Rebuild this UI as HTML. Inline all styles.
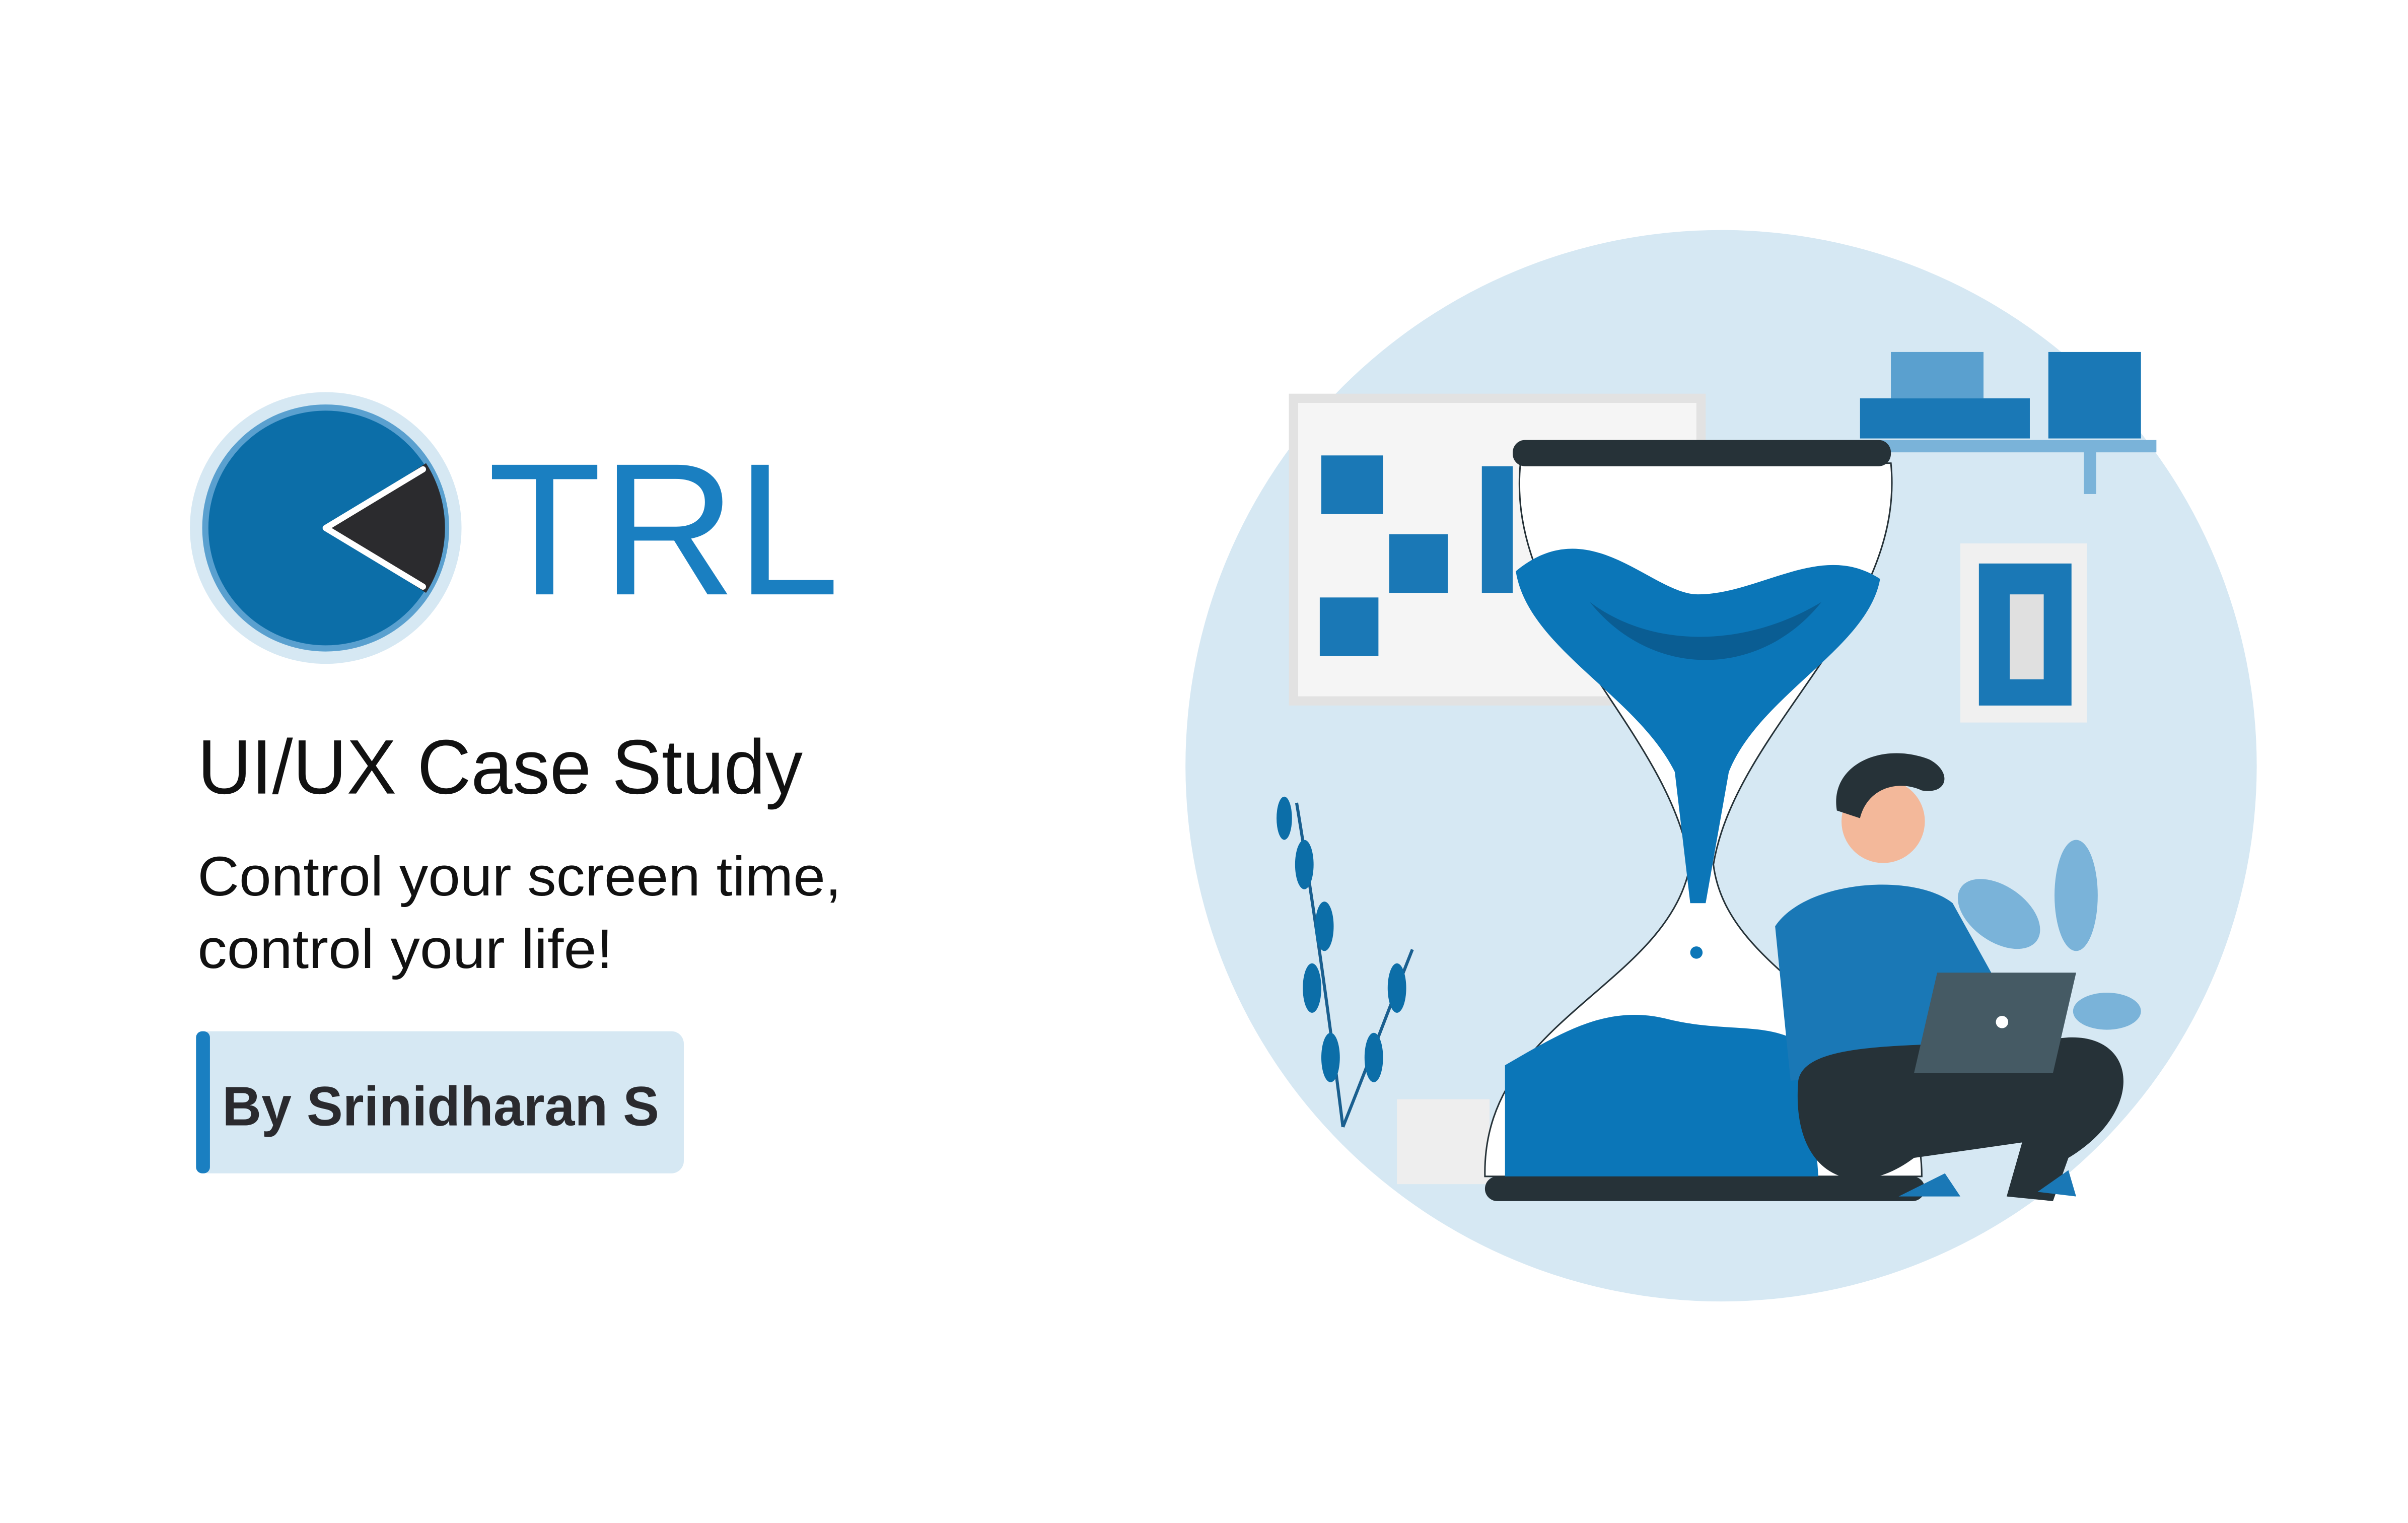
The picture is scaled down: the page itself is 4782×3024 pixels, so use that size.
<!DOCTYPE html>
<html><head><meta charset="utf-8"><style>
html,body{margin:0;padding:0;background:#fff;}
svg{display:block;width:4782px;height:3024px;}
text{font-family:"Liberation Sans",sans-serif;}
</style></head><body>
<svg viewBox="0 0 1560 986.5" preserveAspectRatio="none">
<rect x="0" y="0" width="1560" height="987" fill="#fff"/>
<g>
<circle cx="211" cy="342" r="88" fill="#d6e8f3"/>
<circle cx="211" cy="342" r="80" fill="#5aa0cf"/>
<circle cx="211" cy="342" r="76" fill="#0c6ea8"/>
<path d="M211,342 L276,300 A78,78 0 0 1 276,384 Z" fill="#2b2b2e"/>
<path d="M274,304 L211,342 L274,380" fill="none" stroke="#fff" stroke-width="4" stroke-linecap="round" stroke-linejoin="round"/>
<text x="316" y="385" font-size="122" fill="#1a7fc1" textLength="228" lengthAdjust="spacingAndGlyphs">TRL</text>
</g>
<text x="128" y="514" font-size="50" fill="#111" textLength="392" lengthAdjust="spacingAndGlyphs">UI/UX Case Study</text>
<text x="128" y="580" font-size="36" fill="#111" textLength="417" lengthAdjust="spacingAndGlyphs">Control your screen time,</text>
<text x="128" y="627" font-size="36" fill="#111" textLength="269" lengthAdjust="spacingAndGlyphs">control your life!</text>
<g>
<rect x="127" y="668" width="316" height="92" rx="8" fill="#d6e8f3"/>
<rect x="127" y="668" width="9" height="92" rx="4" fill="#1a7fc1"/>
<text x="144" y="729" font-size="36" font-weight="bold" fill="#2a2a2e" textLength="283" lengthAdjust="spacingAndGlyphs">By Srinidharan S</text>
</g>
<g>
<circle cx="1115" cy="496" r="347" fill="#d6e8f3"/>
<rect x="838" y="258" width="264" height="196" fill="#f5f5f5" stroke="#e2e2e2" stroke-width="6"/>
<rect x="856" y="295" width="40" height="38" fill="#1a78b6"/>
<rect x="900" y="346" width="38" height="38" fill="#1a78b6"/>
<rect x="855" y="387" width="38" height="38" fill="#1a78b6"/>
<rect x="960" y="302" width="20" height="82" fill="#1a78b6"/>
<rect x="1185" y="285" width="212" height="8" fill="#7ab3d9"/>
<rect x="1350" y="290" width="8" height="30" fill="#7ab3d9"/>
<rect x="1205" y="258" width="110" height="26" fill="#1a78b6"/>
<rect x="1225" y="228" width="60" height="30" fill="#5aa0cf"/>
<rect x="1327" y="228" width="60" height="56" fill="#1a78b6"/>
<rect x="1270" y="352" width="82" height="116" fill="#f0f0f0"/>
<rect x="1282" y="365" width="60" height="92" fill="#1a78b6"/>
<rect x="1302" y="385" width="22" height="55" fill="#e0e0e0"/>
<g fill="none" stroke="#1a5f8f" stroke-width="2"><path d="M870,730 C860,650 850,580 840,520"/><path d="M870,730 C890,680 905,640 915,615"/></g>
<g fill="#0c6ea8"><ellipse cx="845" cy="560" rx="6" ry="16"/><ellipse cx="858" cy="600" rx="6" ry="16"/><ellipse cx="850" cy="640" rx="6" ry="16"/><ellipse cx="862" cy="685" rx="6" ry="16"/><ellipse cx="905" cy="640" rx="6" ry="16"/><ellipse cx="890" cy="685" rx="6" ry="16"/><ellipse cx="832" cy="530" rx="5" ry="14"/></g>
<g fill="#7ab3d9"><ellipse cx="1295" cy="592" rx="30" ry="18" transform="rotate(35 1295 592)"/><ellipse cx="1345" cy="580" rx="14" ry="36"/><ellipse cx="1365" cy="655" rx="22" ry="12"/></g>
<rect x="905" y="712" width="60" height="55" fill="#eee"/>
<path d="M985,300 C975,400 1080,470 1095,560 C1080,640 960,660 962,762 L1245,762 C1245,660 1120,640 1110,560 C1125,470 1235,400 1225,300 Z" fill="#fff" stroke="#263238" stroke-width="1"/>
<path d="M982,370 C1030,330 1070,385 1100,385 C1140,385 1180,350 1218,375 C1210,420 1140,450 1120,500 L1105,585 L1095,585 L1085,500 C1060,450 990,420 982,370 Z" fill="#0b76b8"/>
<path d="M1030,390 C1070,420 1130,420 1180,390 C1140,440 1070,440 1030,390 Z" fill="#0a5d93"/>
<circle cx="1099" cy="617" r="4" fill="#0b76b8"/>
<path d="M975,690 C1010,670 1040,650 1080,660 C1120,670 1150,660 1172,680 L1178,762 L975,762 Z" fill="#0b76b8"/>
<rect x="980" y="285" width="245" height="17" rx="8" fill="#263238"/>
<rect x="962" y="762" width="285" height="16" rx="8" fill="#263238"/>
<path d="M1150,600 C1170,570 1240,565 1265,585 L1290,630 L1270,690 L1160,700 Z" fill="#1a78b6"/>
<circle cx="1220" cy="532" r="27" fill="#f3b89a"/>
<path d="M1190,525 C1185,495 1220,480 1250,492 C1265,500 1262,515 1245,512 C1230,505 1210,510 1205,530 Z" fill="#263238"/>
<path d="M1165,700 C1170,670 1260,680 1340,672 C1385,670 1390,720 1340,750 L1330,778 L1300,775 L1310,740 L1240,750 C1200,780 1160,760 1165,700 Z" fill="#263238"/>
<path d="M1255,630 L1345,630 L1330,695 L1240,695 Z" fill="#455a64"/>
<circle cx="1297" cy="662" r="4" fill="#fff"/>
<path d="M1230,775 L1260,760 L1270,775 Z M1320,772 L1340,758 L1345,775 Z" fill="#1a78b6"/>
</g>
</svg>
</body></html>
